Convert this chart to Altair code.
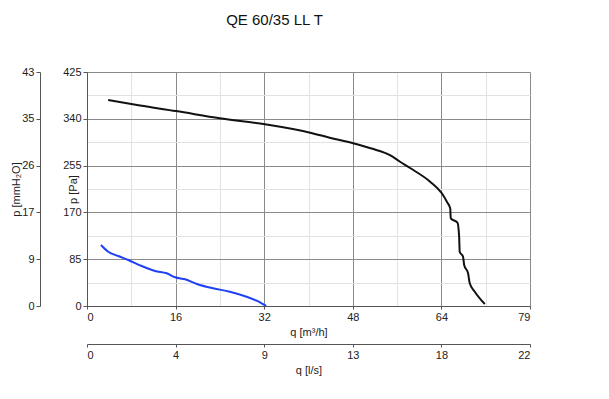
import altair as alt
import pandas as pd

TITLE = "QE 60/35 LL T"
Q_DOMAIN = [0, 79.4]
P_DOMAIN = [0, 425]
X_TICKS = [0, 15.88, 31.76, 47.64, 63.52, 79.4]
X_MINOR = [7.94, 23.82, 39.7, 55.58, 71.46]
Y_TICKS = [0, 85, 170, 255, 340, 425]
Y_MINOR = [42.5, 127.5, 212.5, 297.5, 382.5]

black_q = [3.8, 9.5, 15.95, 23.8, 31.9, 40.0, 43.5, 47.7, 51.0, 54.3, 56.1, 57.9, 61.5,
           63.6, 64.5, 65.1, 65.2, 66.4, 66.7, 66.8, 67.4, 67.6, 68.3, 68.6, 69.5, 71.3]
black_p = [374, 364, 354, 341, 330, 314.8, 305.7, 295.5, 286, 274, 262, 250.6, 225.8,
           204.7, 189.4, 177.4, 159.3, 151.3, 125.9, 98.6, 89.5, 74.5, 59.4, 41.2, 26, 3.6]
blue_q = [2.5, 3.8, 5.6, 7.4, 9.8, 12.2, 14.3, 15.8, 17.6, 19.7, 22.6, 25.6, 28.6, 30.4, 31.3, 32.1]
blue_p = [110.8, 98.6, 90.8, 83.5, 72.6, 63.6, 59.4, 52.1, 48.5, 40, 32.1, 26, 16.9, 9.6, 4.9, 0]

df = pd.concat([
    pd.DataFrame({"q": black_q, "p": black_p, "s": "black", "o": range(len(black_q))}),
    pd.DataFrame({"q": blue_q, "p": blue_p, "s": "blue", "o": range(len(blue_q))}),
])

FONT = "Liberation Sans"
xs = alt.Scale(domain=Q_DOMAIN, nice=False, zero=True)
ys = alt.Scale(domain=P_DOMAIN, nice=False, zero=True)

base = alt.Chart(df)

minor = base.mark_point(opacity=0).encode(
    x=alt.X("q:Q", scale=xs, title=None,
            axis=alt.Axis(orient="top", values=X_MINOR, grid=True, gridColor="#e2e2e2",
                          labels=False, ticks=False, domain=False)),
    y=alt.Y("p:Q", scale=ys, title=None,
            axis=alt.Axis(orient="right", values=Y_MINOR, grid=True, gridColor="#e2e2e2",
                          labels=False, ticks=False, domain=False)),
)

main = base.mark_line(strokeWidth=2, interpolate="monotone").encode(
    x=alt.X("q:Q", scale=xs, title="q [m³/h]",
            axis=alt.Axis(orient="bottom", values=X_TICKS, grid=True, gridColor="#8a8a8a",
                          labelExpr="format(round(datum.value), 'd')",
                          domainColor="#555", tickColor="#555", tickSize=3,
                          labelPadding=2, titlePadding=4)),
    y=alt.Y("p:Q", scale=ys, title="p [Pa]",
            axis=alt.Axis(orient="left", values=Y_TICKS, grid=True, gridColor="#8a8a8a",
                          domainColor="#555", tickColor="#555", tickSize=4,
                          labelPadding=2, titleX=-9)),
    color=alt.Color("s:N", scale=alt.Scale(domain=["black", "blue"], range=["#111111", "#1f40f5"]),
                    legend=None),
    detail="s:N",
    order="o:Q",
)

second = base.mark_point(opacity=0).encode(
    x=alt.X("q:Q", scale=xs, title="q [l/s]",
            axis=alt.Axis(orient="bottom", values=X_TICKS, offset=38, grid=False,
                          labelExpr="format(round(datum.value / 3.6), 'd')",
                          domainColor="#555", tickColor="#555", tickSize=3,
                          labelPadding=2, titlePadding=4)),
    y=alt.Y("p:Q", scale=ys, title="p [mmH₂O]",
            axis=alt.Axis(orient="left", values=Y_TICKS, offset=47, grid=False,
                          labelExpr="format(round(datum.value / 9.80665), 'd')",
                          domainColor="#555", tickColor="#555", tickSize=4,
                          labelPadding=2, titleX=-19)),
)

chart = alt.layer(minor, main, second).resolve_scale(
    x="independent", y="independent"
).properties(
    width=443, height=234,
    padding={"left": 2, "top": 5, "right": 5, "bottom": 5},
    title=alt.TitleParams(TITLE, fontSize=15, font=FONT, fontWeight="normal",
                          color="#111", dx=-34, offset=38),
).configure_axis(
    labelFont=FONT, titleFont=FONT, labelFontSize=11, titleFontSize=11,
    titleFontWeight="normal", labelColor="#222", titleColor="#222",
).configure_view(strokeWidth=0)

chart.save("out.html", embed_options={"renderer": "svg", "actions": False})
